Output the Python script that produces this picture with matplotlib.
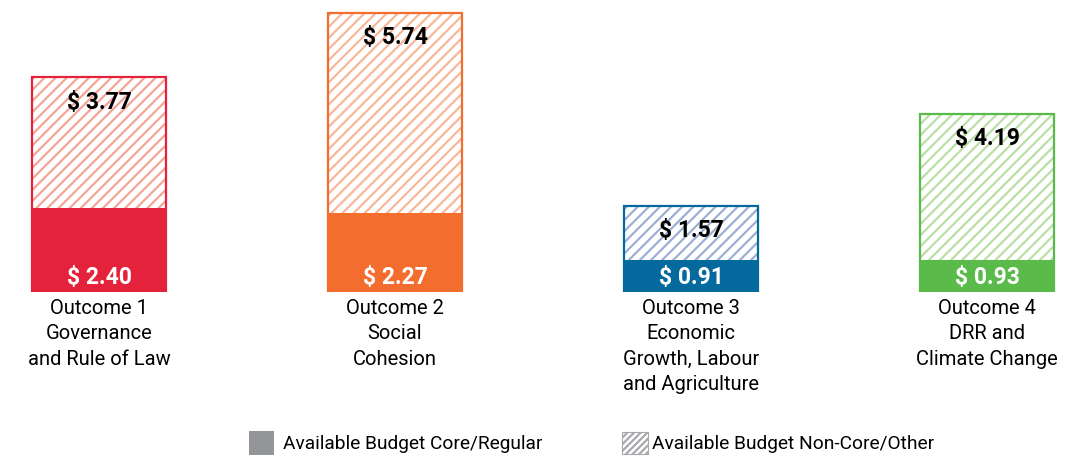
import matplotlib
matplotlib.use("Agg")
from matplotlib import pyplot as plt
from matplotlib.patches import Rectangle

# Data
outcomes = ["Outcome 1\nGovernance\nand Rule of Law",
            "Outcome 2\nSocial\nCohesion",
            "Outcome 3\nEconomic\nGrowth, Labour\nand Agriculture",
            "Outcome 4\nDRR and\nClimate Change"]
core = [2.40, 2.27, 0.91, 0.93]
non_core = [3.77, 5.74, 1.57, 4.19]

main_colors = ["#E4223B", "#F26D2E", "#046A9E", "#5BBB4A"]
light_colors = ["#F4A597", "#F8B79A", "#9DB0D3", "#B9DFA6"]

plt.rcParams["font.family"] = ["Roboto", "DejaVu Sans"]
plt.rcParams["hatch.linewidth"] = 1.6

fig = plt.figure(figsize=(10.65, 4.57), dpi=100)
ax = fig.add_axes([0, 165 / 457, 1, 292 / 457])

x = list(range(len(outcomes)))
w = 0.456
tops = [c + n for c, n in zip(core, non_core)]

# core part
ax.bar(x, core, width=w, color=main_colors, edgecolor=main_colors, linewidth=1.2)
# non-core hatched part
for i in x:
    ax.bar(i, non_core[i], bottom=core[i], width=w, facecolor="white",
           edgecolor=light_colors[i], hatch="///", linewidth=0)
    ax.bar(i, tops[i], width=w, fill=False, edgecolor=main_colors[i], linewidth=1.6)
    ax.text(i, 0.1, "$ %.2f" % core[i], ha="center", va="bottom", color="white",
            fontsize=16.5, fontweight="bold")
    ax.text(i, tops[i] - 0.38, "$ %.2f" % non_core[i], ha="center", va="top", color="black",
            fontsize=16.5, fontweight="bold")
    ax.text(i, -0.2, outcomes[i], ha="center", va="top", fontsize=14.5, linespacing=1.42)

ax.set_xlim(-99 / 296, (1065 - 99) / 296)
ax.set_ylim(0, 292 / 34.8)
ax.axis("off")

# legend
fig.patches.append(Rectangle((249 / 1065, 2 / 457), 25 / 1065, 24 / 457, transform=fig.transFigure,
                             facecolor="#939598", edgecolor="none"))
fig.text(283 / 1065, 13 / 457, "Available Budget Core/Regular", va="center", fontsize=13.8)
fig.patches.append(Rectangle((622 / 1065, 3 / 457), 26 / 1065, 22 / 457, transform=fig.transFigure,
                             facecolor="white", edgecolor="#A7A9AC", hatch="/////", linewidth=0.8))
fig.text(652 / 1065, 13 / 457, "Available Budget Non-Core/Other", va="center", fontsize=13.8)

fig.savefig("out.png", dpi=100)
